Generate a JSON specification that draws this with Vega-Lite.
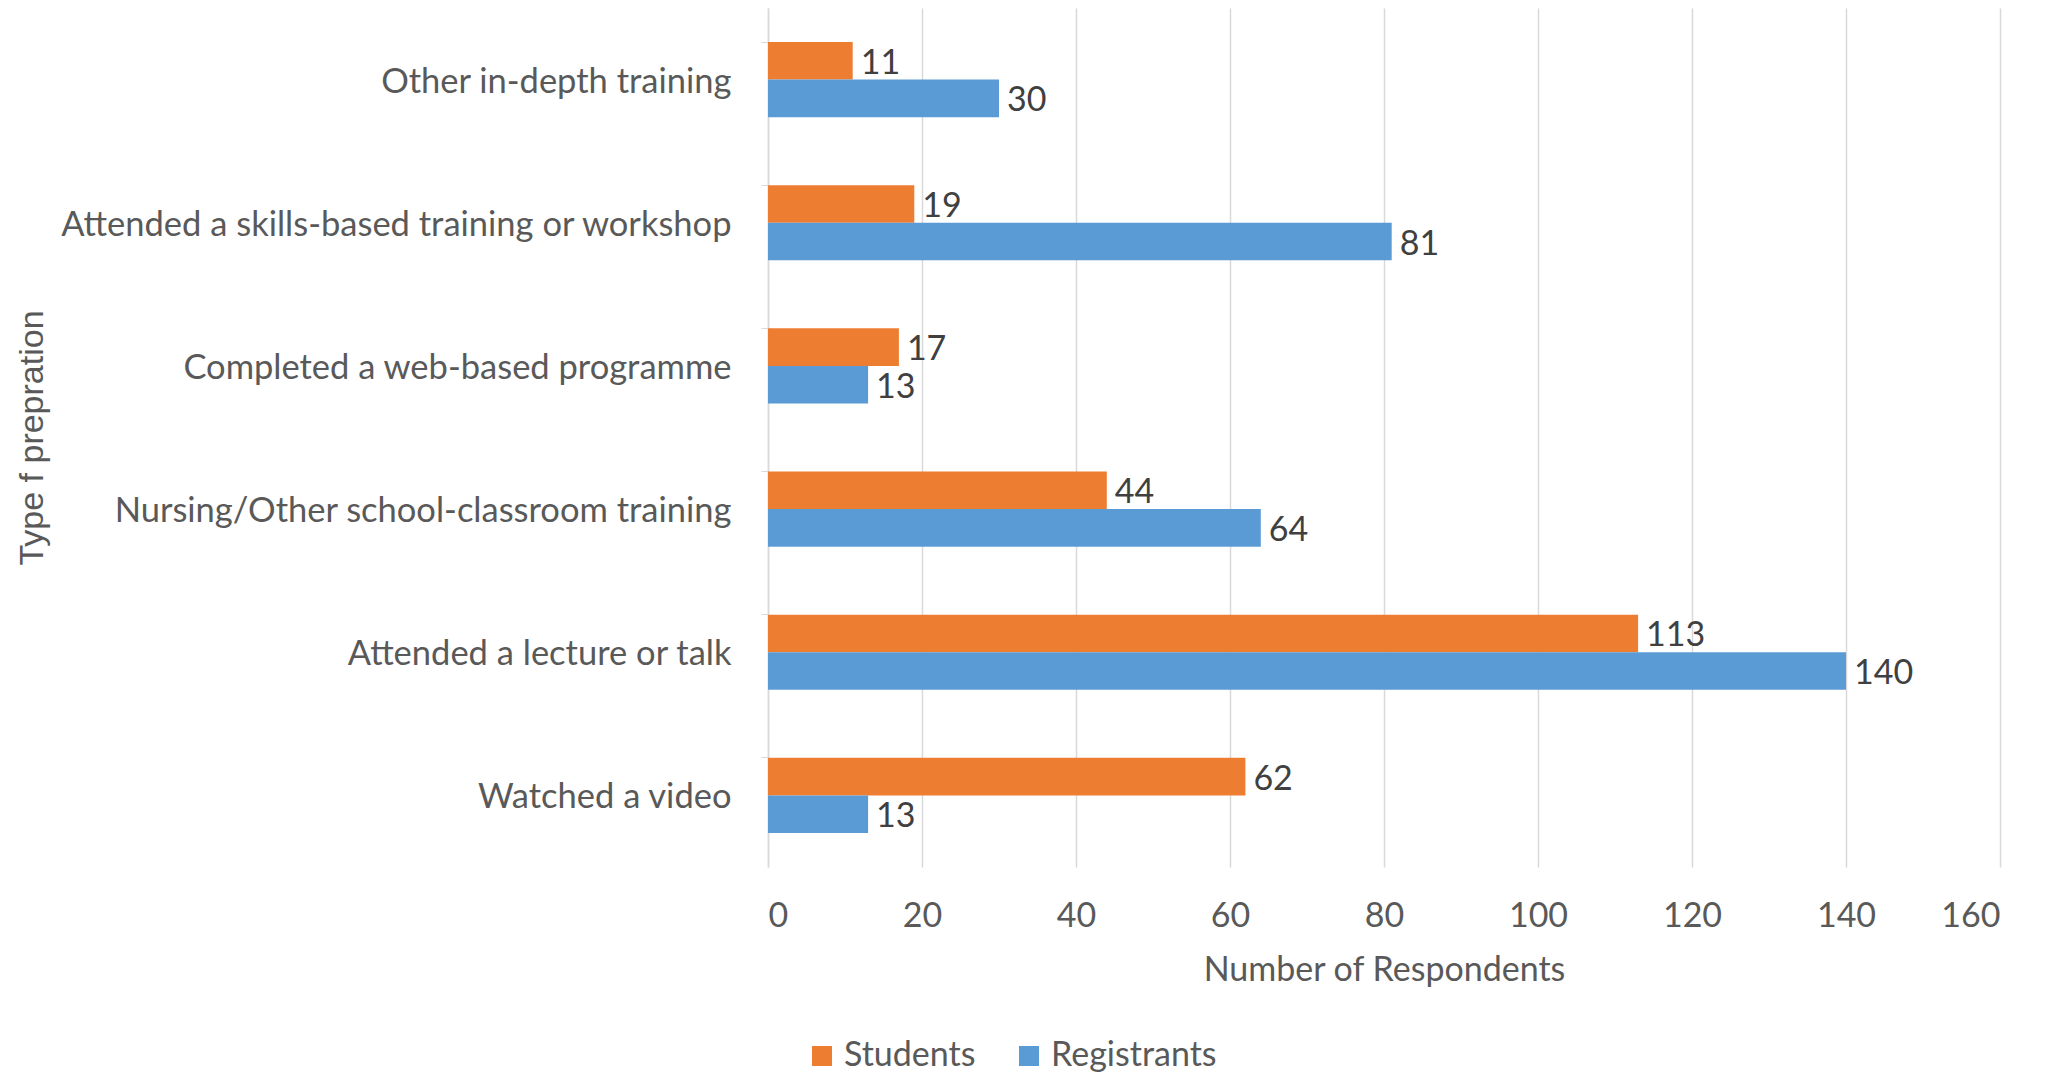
{
  "$schema": "https://vega.github.io/schema/vega-lite/v6.json",
  "width": 1232,
  "height": 859,
  "autosize": {"type": "none"},
  "padding": {"left": 768, "top": 8, "right": 59, "bottom": 205},
  "background": "white",
  "config": {"view": {"stroke": null}, "font": "Lato"},
  "data": {"values": [
    {"prep": "Other in-depth training", "group": "Students", "n": 11},
    {"prep": "Other in-depth training", "group": "Registrants", "n": 30},
    {"prep": "Attended a skills-based training or workshop", "group": "Students", "n": 19},
    {"prep": "Attended a skills-based training or workshop", "group": "Registrants", "n": 81},
    {"prep": "Completed a web-based programme", "group": "Students", "n": 17},
    {"prep": "Completed a web-based programme", "group": "Registrants", "n": 13},
    {"prep": "Nursing/Other school-classroom training", "group": "Students", "n": 44},
    {"prep": "Nursing/Other school-classroom training", "group": "Registrants", "n": 64},
    {"prep": "Attended a lecture or talk", "group": "Students", "n": 113},
    {"prep": "Attended a lecture or talk", "group": "Registrants", "n": 140},
    {"prep": "Watched a video", "group": "Students", "n": 62},
    {"prep": "Watched a video", "group": "Registrants", "n": 13}
  ]},
  "encoding": {
    "y": {
      "field": "prep", "type": "nominal",
      "sort": ["Other in-depth training", "Attended a skills-based training or workshop", "Completed a web-based programme", "Nursing/Other school-classroom training", "Attended a lecture or talk", "Watched a video"],
      "scale": {"paddingInner": 0.4755, "paddingOuter": 0.2378},
      "axis": {
        "title": "Type f prepration",
        "titleFont": "Liberation Sans", "titleFontSize": 34, "titleFontWeight": "normal", "titleColor": "#595959",
        "titlePadding": 0, "titleX": -736, "titleY": 429.5, "titleAngle": -90, "titleBaseline": "middle", "titleAlign": "center",
        "labelFontSize": 34.5, "labelColor": "#595959", "labelPadding": 30, "labelLimit": 0, "labelOffset": 3,
        "tickSize": 7, "tickColor": "#D9D9D9", "bandPosition": 0,
        "domainColor": "#D9D9D9", "domainWidth": 1.5, "grid": false
      }
    },
    "yOffset": {"field": "group", "type": "nominal", "sort": ["Students", "Registrants"]},
    "x": {
      "field": "n", "type": "quantitative",
      "scale": {"domain": [0, 160], "nice": false},
      "axis": {
        "title": "Number of Respondents", "titleFontSize": 34, "titleFontWeight": "normal", "titleColor": "#595959", "titlePadding": 20,
        "values": [0, 20, 40, 60, 80, 100, 120, 140, 160],
        "labelFontSize": 34, "labelColor": "#595959", "labelPadding": 32,
        "ticks": false, "domain": false, "grid": true, "gridColor": "#D9D9D9", "gridWidth": 1.5
      }
    }
  },
  "layer": [
    {
      "mark": {"type": "bar"},
      "encoding": {
        "color": {
          "field": "group", "type": "nominal",
          "scale": {"domain": ["Students", "Registrants"], "range": ["#ED7D31", "#5B9BD5"]},
          "legend": {
            "title": null, "orient": "none", "direction": "horizontal",
            "legendX": 37, "legendY": 1031,
            "symbolType": "square", "symbolSize": 400, "symbolStrokeWidth": 0,
            "labelFontSize": 34, "labelColor": "#595959", "columnPadding": 36, "labelOffset": 5, "labelLimit": 0
          }
        }
      }
    },
    {
      "mark": {"type": "text", "align": "left", "baseline": "middle", "dx": 8, "dy": 3, "fontSize": 34, "color": "#404040"},
      "encoding": {"text": {"field": "n", "type": "quantitative"}}
    }
  ]
}
